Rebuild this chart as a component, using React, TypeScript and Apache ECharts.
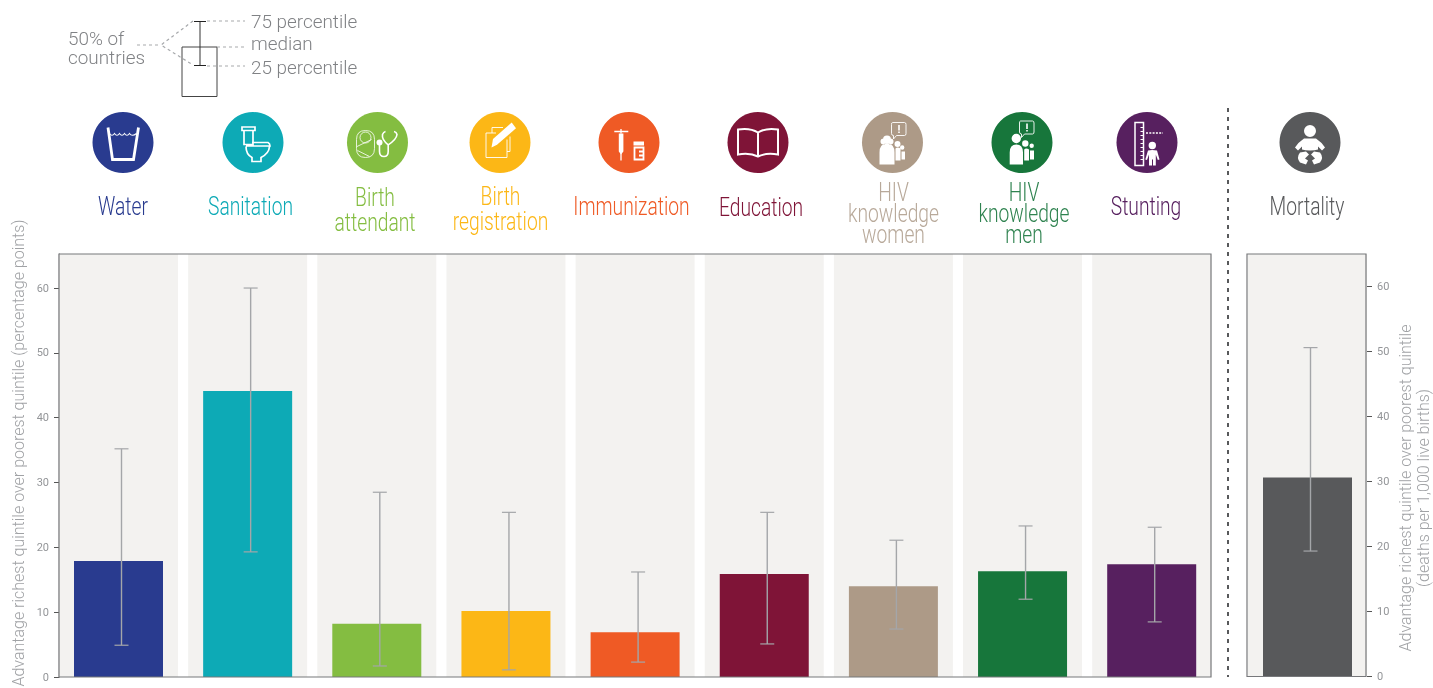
import React, { useEffect, useRef } from "react";
import * as echarts from "echarts";

const categories = ["Water", "Sanitation", "Birth attendant", "Birth registration", "Immunization", "Education", "HIV knowledge women", "HIV knowledge men", "Stunting"];
const medians = [17.9, 44.1, 8.2, 10.2, 6.9, 15.9, 14.0, 16.3, 17.4];
const lows = [4.9, 19.3, 1.7, 1.1, 2.3, 5.1, 7.4, 12.0, 8.5];
const highs = [35.2, 60.0, 28.5, 25.4, 16.2, 25.4, 21.1, 23.3, 23.1];
const colors = ["#293b8f", "#0daab6", "#84bd41", "#fcb716", "#ef5a25", "#7f1437", "#ad9a87", "#17763b", "#57205f"];
const mortalityMedian = [30.6];
const mortalityLow = [19.3];
const mortalityHigh = [50.6];
const mortalityColor = "#58595b";
const tickValues = [0, 10, 20, 30, 40, 50, 60];

const titleRows: [number, string, string, number][] = [
  [123, "Water", colors[0], 219],
  [250.5, "Sanitation", colors[1], 219],
  [375, "Birth", colors[2], 210],
  [375, "attendant", colors[2], 235],
  [500.5, "Birth", colors[3], 209],
  [500.5, "registration", colors[3], 234],
  [631.5, "Immunization", colors[4], 219],
  [761, "Education", colors[5], 220],
  [893.5, "HIV", "#b8a99a", 205],
  [893.5, "knowledge", "#b8a99a", 226],
  [893.5, "women", "#b8a99a", 247],
  [1024, "HIV", "#2f8350", 205],
  [1024, "knowledge", "#2f8350", 226],
  [1024, "men", "#2f8350", 247],
  [1146, "Stunting", colors[8], 219],
  [1307, "Mortality", mortalityColor, 219],
];

const circ = (x: number, y: number, r: number) =>
  `M${x - r} ${y} A${r} ${r} 0 1 0 ${x + r} ${y} A${r} ${r} 0 1 0 ${x - r} ${y} Z `;

const bubble = (dx: number, dy: number) =>
  `M${dx} ${dy - 20} H${dx + 12} Q${dx + 13.5} ${dy - 20} ${dx + 13.5} ${dy - 18} V${dy - 9} Q${dx + 13.5} ${dy - 7} ${dx + 12} ${dy - 7} H${dx + 4} L${dx + 1} ${dy - 3.5} V${dy - 7} Q${dx - 1} ${dy - 7} ${dx - 1} ${dy - 9} V${dy - 18} Q${dx - 1} ${dy - 20} ${dx} ${dy - 20} Z`;
const bang = (dx: number, dy: number) =>
  `M${dx + 5.7} ${dy - 17.5} H${dx + 7.3} V${dy - 12} H${dx + 5.7} Z M${dx + 5.7} ${dy - 11} H${dx + 7.3} V${dy - 9.5} H${dx + 5.7} Z`;

type Part = { d: string; w?: number; dash?: number[] };
const icons: { cx: number; color: string; parts: Part[] }[] = [
  { cx: 123, color: colors[0], parts: [
    { d: "M-15 -15 L-10.5 17 L10.5 17 L15.5 -15", w: 2.8 },
    { d: "M-13.5 -9 Q-11 -5.5 -8.5 -9 Q-6 -5.5 -3.5 -9 Q-1 -5.5 1.5 -9 Q4 -5.5 6.5 -9 Q9 -5.5 13.5 -9", w: 1.1 },
  ] },
  { cx: 253, color: colors[1], parts: [
    { d: "M-11 -15.5 H2 V-12 H-11 Z M-9 -12 V2 H0 V-12 M-1 0 H15 Q17 1 17 3.5 H-7 M-7 4 Q-7 12 -1 15 V19 H8 V15 Q16 11 16.5 4", w: 1.7 },
  ] },
  { cx: 377.5, color: colors[2], parts: [
    { d: "M-12 -12 Q-3 -12 -3 -3 V6 Q-3 15 -12 15 Q-21 15 -21 6 V-3 Q-21 -12 -12 -12 Z M-20.5 4 L-6 -3 M-20 8 L-8 14 " + circ(-12, -5, 5.5), w: 0.8 },
    { d: "M2 2 V9 Q2 14 6.5 14 Q10.7 14 10.7 9 V2.3 Q4 -3 5 -8 Q6 -10.5 8 -11 M10.7 2.3 Q19 -3 19.5 -8 Q19 -10.5 16.5 -11", w: 1.6 },
    { d: circ(2, 0, 3) },
  ] },
  { cx: 500, color: colors[3], parts: [
    { d: "M-14 -9.5 V15 H7 V-3 M-14 -9.5 H-4 M-8 -9.5 V-15 H3 M10 -6 V9 H7", w: 0.9 },
    { d: "M-8.5 5 L-7 -3.5 L11.7 -20 L16 -14.3 L-3 2.3 Z" },
  ] },
  { cx: 629, color: colors[4], parts: [
    { d: "M-14.7 -11 H-0.7 M-8 -13.5 V-9 M-8 9 V18", w: 1.3 },
    { d: "M-10.2 -9 H-5.6 V9 L-8 12 L-10.2 9 Z M4.5 -1 H15 V3 H4.5 Z" },
    { d: "M5.5 5 H14.5 V17 H5.5 Z M10 9 H14.5 M10 13 H14.5", w: 1.8 },
  ] },
  { cx: 758, color: colors[5], parts: [
    { d: "M0 -10 Q-8 -15 -20 -13 V12 Q-8 10 0 14 Q8 10 20 12 V-13 Q8 -15 0 -10 V14", w: 2 },
  ] },
  { cx: 892.5, color: colors[6], parts: [
    { d: bubble(0, 0), w: 0.9 },
    { d: bang(0, 0) + " M-13 22 V10 Q-13 1 -5.5 1 Q2 1 2 10 V22 Z M3 18 V6 Q5 4 8 6 V18 Z M9 17 V9 H12.5 V17 Z " + circ(-5.5, -3, 4) + circ(-9, -1, 3) + circ(-2, -1, 3) + circ(5, 1.5, 3) + circ(9.7, 5, 2.2) },
  ] },
  { cx: 1022, color: colors[7], parts: [
    { d: bubble(-1.5, -1.5), w: 0.9 },
    { d: bang(-1.5, -1.5) + " M-12.3 22 V10 Q-12.3 2 -5.7 2 Q1 2 1 10 V22 Z M2.2 18 V7 Q4 5 7 7 V18 Z M8 17 V8 H12 V17 Z " + circ(-5.7, -4, 4.7) + circ(3.3, 1, 3.2) + circ(9.7, 3.3, 2.2) },
  ] },
  { cx: 1147, color: colors[8], parts: [
    { d: "M-12 -20 H-3.5 V23 H-12 Z", w: 1.5 },
    { d: "M-3.5 -15 H-6.5 M-3.5 -11 H-6.5 M-3.5 -7 H-6.5 M-3.5 -3 H-6.5 M-3.5 1 H-6.5 M-3.5 5 H-6.5 M-3.5 9 H-6.5 M-3.5 13 H-6.5 M-3.5 17 H-6.5", w: 1 },
    { d: "M-1 -9.5 H16", w: 1.6, dash: [2, 1.3] },
    { d: circ(5.3, 3, 3.7) + "M1 8 Q5 7 10 8 L12.5 17 L10.8 17.5 L8.8 12 V23 H6 V17 H5 V23 H2 V12 L0 17.5 L-1.7 17 Z" },
  ] },
  { cx: 1310, color: mortalityColor, parts: [
    { d: circ(0, -11.5, 6) + "M-6 -4 H6 Q12 0 15 5 L12 8 L8 4 V7 Q5 8 0 8 Q-5 8 -8 7 V4 L-12 8 L-15 5 Q-12 0 -6 -4 Z M-10 10 Q-14 15 -10 20 L-4 22 L-2 18 L-5 16 L-1 12 L-4 9 Z M10 10 Q14 15 10 20 L4 22 L2 18 L5 16 L1 12 L4 9 Z" },
  ] },
];

const specks = [[159, 449], [288, 288], [804, 512]];
const TEXT = "#808285";
const TICK = "#939598";

function App() {
  const ref = useRef<HTMLDivElement>(null);
  useEffect(() => {
    const chart = echarts.init(ref.current!, undefined, { renderer: "svg" });
    const graphic: any[] = [];
    icons.forEach((ic, i) => {
      graphic.push({ type: "circle", shape: { cx: ic.cx, cy: 142.5, r: 30.5 }, style: { fill: ic.color } });
      ic.parts.forEach((p, j) => {
        const name = `ic${i}_${j}`;
        echarts.graphic.registerShape(name, (echarts.graphic as any).extendPath(p.d, {}));
        graphic.push({
          type: name, x: ic.cx, y: 142.5,
          style: p.w ? { fill: "none", stroke: "#fff", lineWidth: p.w, lineDash: p.dash } : { fill: "#fff" },
        });
      });
    });
    titleRows.forEach(([x, text, fill, y]) =>
      graphic.push({
        type: "text", x, y, scaleX: 0.77,
        style: { text, fill, font: '300 25px Roboto', textAlign: "center", textVerticalAlign: "bottom" },
      })
    );
    const dash = { stroke: "#a7a9ac", lineWidth: 1.2, lineDash: [3, 3] };
    graphic.push(
      { type: "rect", shape: { x: 182, y: 47, width: 35, height: 49.5 }, style: { fill: "none", stroke: "#444", lineWidth: 1 } },
      { type: "line", shape: { x1: 200, y1: 21.5, x2: 200, y2: 65.5 }, style: { stroke: "#333", lineWidth: 1 } },
      { type: "line", shape: { x1: 194, y1: 21.5, x2: 206, y2: 21.5 }, style: { stroke: "#222", lineWidth: 1 } },
      { type: "line", shape: { x1: 194, y1: 65.5, x2: 206, y2: 65.5 }, style: { stroke: "#222", lineWidth: 1 } },
      { type: "line", shape: { x1: 207, y1: 21, x2: 245, y2: 21 }, style: dash },
      { type: "line", shape: { x1: 217, y1: 47, x2: 247, y2: 47 }, style: dash },
      { type: "line", shape: { x1: 207, y1: 66, x2: 245, y2: 66 }, style: dash },
      { type: "polyline", shape: { points: [[193, 21], [161, 45], [193, 65]] }, style: { ...dash, fill: "none" } },
      { type: "line", shape: { x1: 137, y1: 45, x2: 161, y2: 45 }, style: dash }
    );
    [["75 percentile", 251, 22], ["median", 251, 44], ["25 percentile", 251, 68], ["50% of", 68, 39.5], ["countries", 68, 58]].forEach(([text, x, y]) =>
      graphic.push({ type: "text", x, y, scaleX: 1.05, style: { text, fill: TEXT, font: '300 18px Roboto', lineHeight: 18, textVerticalAlign: "middle", textAlign: "left" } })
    );
    graphic.push({ type: "line", shape: { x1: 1228, y1: 108, x2: 1228, y2: 677 }, style: { stroke: "#58595b", lineWidth: 2, lineDash: [4, 5] } });
    specks.forEach(([x, y]) => graphic.push({ type: "rect", shape: { x, y, width: 1, height: 1 }, style: { fill: "#333" } }));
    graphic.push(
      { type: "text", x: 18, y: 453, rotation: Math.PI / 2, style: { text: "Advantage richest quintile over poorest quintile (percentage points)", fill: "#a0a2a5", font: '300 16px Roboto', textAlign: "center", textVerticalAlign: "middle" } },
      { type: "text", x: 1405, y: 488, rotation: Math.PI / 2, style: { text: "Advantage richest quintile over poorest quintile", fill: "#a0a2a5", font: '300 16px Roboto', textAlign: "center", textVerticalAlign: "middle" } },
      { type: "text", x: 1423, y: 488, rotation: Math.PI / 2, style: { text: "(deaths per 1,000 live births)", fill: "#a0a2a5", font: '300 16px Roboto', textAlign: "center", textVerticalAlign: "middle" } }
    );

    const yAxisCommon = {
      type: "value", min: 0, interval: 10, splitLine: { show: false },
      axisLabel: { customValues: tickValues, color: TICK, fontSize: 11, fontFamily: "Roboto", margin: 10 },
      axisTick: { show: true, customValues: tickValues, length: 5, lineStyle: { color: "#555" } },
    };
    const bandSeries = (xi: number, n: number, top: number) => ({
      type: "custom", xAxisIndex: xi, yAxisIndex: xi, z: 1, silent: true,
      data: Array.from({ length: n }, (_, i) => [i]),
      renderItem: (_: any, api: any) => {
        const a = api.coord([api.value(0), 0]);
        const b = api.coord([api.value(0), top]);
        return { type: "rect", shape: { x: a[0] - 59.5, y: b[1], width: 119, height: a[1] - b[1] }, style: { fill: "#f3f2f0" } };
      },
    });
    const errSeries = (xi: number, data: number[][]) => ({
      type: "custom", xAxisIndex: xi, yAxisIndex: xi, z: 5, silent: true, data,
      renderItem: (_: any, api: any) => {
        const lo = api.coord([api.value(0), api.value(1)]);
        const hi = api.coord([api.value(0), api.value(2)]);
        const x = lo[0] + 3;
        const st = { stroke: "#a4a6a9", lineWidth: 1.4 };
        return {
          type: "group",
          children: [
            { type: "line", shape: { x1: x, y1: lo[1], x2: x, y2: hi[1] }, style: st },
            { type: "line", shape: { x1: x - 7, y1: lo[1], x2: x + 7, y2: lo[1] }, style: { ...st, lineWidth: 1.2 } },
            { type: "line", shape: { x1: x - 7, y1: hi[1], x2: x + 7, y2: hi[1] }, style: { ...st, lineWidth: 1.2 } },
          ],
        };
      },
    });

    chart.setOption({
      animation: false,
      graphic,
      grid: [
        { left: 59, top: 254, width: 1152, height: 423, show: true, borderColor: "#77787b", borderWidth: 1.2, z: 3 },
        { left: 1247, top: 254, width: 119, height: 422.5, show: true, borderColor: "#77787b", borderWidth: 1.2, z: 3 },
      ],
      xAxis: [
        { type: "value", gridIndex: 0, min: -59.5 / 129.15, max: 1092.5 / 129.15, show: false },
        { type: "value", gridIndex: 1, min: -60.5 / 129, max: 58.5 / 129, show: false },
      ],
      yAxis: [
        { ...yAxisCommon, gridIndex: 0, max: 65.25, position: "left", axisLine: { show: true, onZero: false, lineStyle: { color: "#58595b", width: 1.2 } } },
        { ...yAxisCommon, gridIndex: 1, max: 65, position: "right", offset: 1, axisLine: { show: false, onZero: false } },
      ],
      series: [
        bandSeries(0, categories.length, 65.25),
        bandSeries(1, 1, 65),
        {
          type: "bar", xAxisIndex: 0, yAxisIndex: 0, barWidth: 89, z: 2, name: "Median",
          data: medians.map((v, i) => ({ value: [i, v], itemStyle: { color: colors[i] } })),
        },
        {
          type: "bar", xAxisIndex: 1, yAxisIndex: 1, barWidth: 89, z: 2, name: "Mortality",
          data: mortalityMedian.map((v, i) => ({ value: [i, v], itemStyle: { color: mortalityColor } })),
        },
        errSeries(0, medians.map((_, i) => [i, lows[i], highs[i]])),
        errSeries(1, mortalityMedian.map((_, i) => [i, mortalityLow[i], mortalityHigh[i]])),
      ],
    });
    return () => chart.dispose();
  }, []);
  return <div ref={ref} style={{ position: "fixed", left: 0, top: 0, width: 1433, height: 688 }} />;
}

export default App;
